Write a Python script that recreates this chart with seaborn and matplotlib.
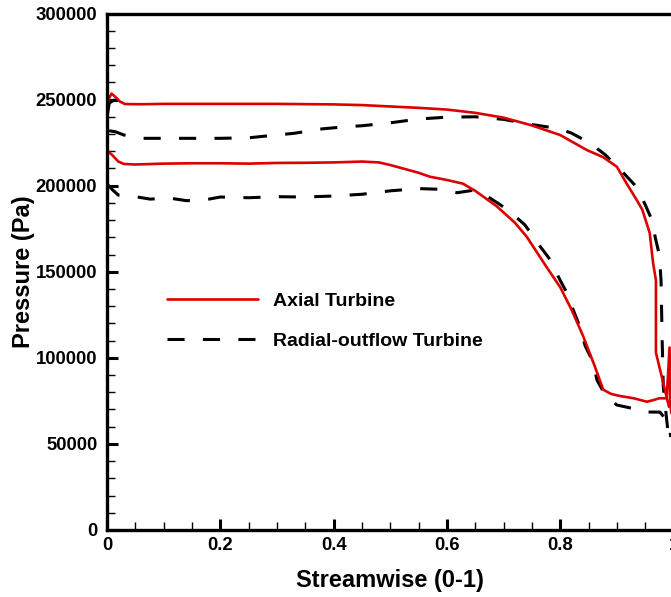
import matplotlib
matplotlib.use("Agg")
import matplotlib.pyplot as plt
from matplotlib.lines import Line2D
from matplotlib.ticker import MultipleLocator
import pandas as pd
import seaborn as sns

# Axial turbine: static pressure along the blade, upper and lower surfaces
axial_upper_x = [0.0, 0.004, 0.008, 0.015, 0.023, 0.032, 0.06, 0.1, 0.2, 0.3, 0.4, 0.45,
                 0.5, 0.55, 0.6, 0.65, 0.7, 0.75, 0.8, 0.847, 0.876, 0.9, 0.917, 0.935,
                 0.945, 0.958, 0.964, 0.969, 0.969, 0.98, 0.992]
axial_upper_p = [246000, 251000, 253500, 251500, 248800, 247400, 247300, 247500, 247500, 247500,
                 247200, 246800, 246000, 245200, 244200, 242300, 239500, 235000, 229400, 220700,
                 216500, 211000, 201400, 191700, 186000, 172500, 155000, 145000, 103000, 88000,
                 71600]

axial_lower_x = [0.002, 0.01, 0.02, 0.03, 0.05, 0.1, 0.15, 0.2, 0.25, 0.3, 0.35, 0.4, 0.45,
                 0.48, 0.5, 0.55, 0.57, 0.6, 0.628, 0.65, 0.688, 0.72, 0.741, 0.777, 0.8,
                 0.82, 0.84, 0.86, 0.876, 0.89, 0.906, 0.93, 0.953, 0.965, 0.975, 0.988,
                 0.993, 0.994, 0.996]
axial_lower_p = [220000, 217500, 214000, 212600, 212300, 212800, 213000, 213000, 212800, 213200,
                 213300, 213500, 214000, 213500, 212000, 207500, 205200, 203300, 201200, 197000,
                 188000, 178500, 170300, 152200, 141000, 128000, 113000, 96000, 81500, 79000,
                 77800, 76500, 74500, 75500, 76500, 76500, 106000, 76000, 68000]

# Radial-outflow turbine: upper and lower surfaces
radial_upper_x = [0.014, 0.004, 0.0, 0.002, 0.015, 0.03, 0.06, 0.1, 0.15, 0.2, 0.25, 0.28,
                  0.33, 0.38, 0.42, 0.45, 0.5, 0.55, 0.6, 0.65, 0.7, 0.75, 0.8, 0.82, 0.853,
                  0.88, 0.91, 0.935, 0.95, 0.962, 0.968, 0.975, 0.978, 0.98, 0.982, 0.986,
                  0.99, 0.994]
radial_upper_p = [250000, 248000, 240000, 232000, 231300, 229400, 227500, 227500, 227500, 227500,
                  227800, 228800, 230400, 233000, 234200, 234800, 236500, 238700, 239800, 240000,
                  238500, 235500, 233000, 230500, 224700, 217800, 208000, 199200, 189000, 180000,
                  169600, 159700, 145000, 110000, 83000, 70000, 58000, 52000]

radial_lower_x = [0.0, 0.01, 0.02, 0.05, 0.076, 0.11, 0.14, 0.17, 0.2, 0.25, 0.3, 0.35, 0.4,
                  0.45, 0.5, 0.55, 0.588, 0.618, 0.65, 0.676, 0.708, 0.738, 0.76, 0.78, 0.8,
                  0.812, 0.823, 0.835, 0.844, 0.858, 0.865, 0.88, 0.9, 0.925, 0.945, 0.976,
                  0.992, 0.995]
radial_lower_p = [201000, 197500, 194500, 193600, 192200, 192800, 191300, 191600, 193400, 193000,
                  193600, 193400, 194000, 195000, 197000, 198300, 197900, 195900, 197500, 192800,
                  185900, 177100, 166700, 158000, 145000, 137600, 127800, 117900, 107000, 97600,
                  87000, 78000, 72600, 70800, 68500, 68500, 62000, 54000]

turbine_names = ["Axial Turbine", "Radial-outflow Turbine"]
x_ticks = [0, 0.2, 0.4, 0.6, 0.8, 1.0]
x_tick_labels = ["0", "0.2", "0.4", "0.6", "0.8", "1"]
y_ticks = [0, 50000, 100000, 150000, 200000, 250000, 300000]


def surface_frame(name, curves):
    frames = []
    for side, (xs, ps) in curves.items():
        frames.append(pd.DataFrame({"turbine": name, "side": side, "x": xs, "p": ps}))
    return pd.concat(frames, ignore_index=True)


axial = surface_frame(turbine_names[0], {"upper": (axial_upper_x, axial_upper_p),
                                         "lower": (axial_lower_x, axial_lower_p)})
radial = surface_frame(turbine_names[1], {"upper": (radial_upper_x, radial_upper_p),
                                          "lower": (radial_lower_x, radial_lower_p)})

sns.set_theme(style="white")
plt.rcParams["font.family"] = ["Liberation Sans", "DejaVu Sans"]
plt.rcParams["font.weight"] = "bold"
plt.rcParams["text.color"] = "black"
plt.rcParams["axes.labelcolor"] = "black"

red = "#dc0000"
dash = (0, (5.6, 6.0))

fig = plt.figure(figsize=(6.71, 5.97), dpi=100)
ax = fig.add_axes([107 / 671, 67 / 597, 566.5 / 671, 516.5 / 597])

sns.lineplot(data=radial, x="x", y="p", units="side", estimator=None, sort=False,
             color="black", linewidth=2.2, linestyle=dash, legend=False, ax=ax)
sns.lineplot(data=axial, x="x", y="p", units="side", estimator=None, sort=False,
             color=red, linewidth=1.9, legend=False, ax=ax)

ax.set_xlim(0, 1)
ax.set_ylim(0, 300000)

ax.set_xticks(x_ticks)
ax.set_xticklabels(x_tick_labels)
ax.set_yticks(y_ticks)
ax.set_yticklabels([str(v) for v in y_ticks])
ax.xaxis.set_minor_locator(MultipleLocator(0.05))
ax.yaxis.set_minor_locator(MultipleLocator(10000))

ax.tick_params(which="both", direction="in", bottom=True, left=True, top=False, right=False,
               colors="black", labelcolor="black", labelsize=13.3)
ax.tick_params(which="major", length=8, width=2.2)
ax.tick_params(which="minor", length=5.5, width=1.0)
ax.tick_params(axis="y", which="major", pad=7)
ax.tick_params(axis="x", which="major", pad=5)
for lab in ax.get_xticklabels() + ax.get_yticklabels():
    lab.set_fontweight("bold")

for s in ax.spines.values():
    s.set_visible(True)
    s.set_color("black")
    s.set_linewidth(2.4)

ax.set_xlabel("Streamwise (0-1)", fontsize=17, fontweight="bold", color="black")
ax.set_ylabel("Pressure (Pa)", fontsize=17, fontweight="bold", color="black")
ax.xaxis.label.set_va("center")
ax.yaxis.label.set_va("center")
ax.xaxis.set_label_coords(0.5, (530 - 580) / 516.5)
ax.yaxis.set_label_coords((24 - 107) / 566.5, 0.5)

handles = [Line2D([], [], color=red, linewidth=1.9),
           Line2D([], [], color="black", linewidth=2.2, linestyle=dash)]
leg = ax.legend(handles, turbine_names, loc="upper left",
                bbox_to_anchor=((167 - 107) / 566.5, (530 - 292) / 516.5),
                frameon=False, borderpad=0, borderaxespad=0, handlelength=4.7,
                handletextpad=0.77, labelspacing=1.17,
                prop={"size": 14, "weight": "bold"})
for t in leg.get_texts():
    t.set_color("black")

fig.savefig("out.png", dpi=100, facecolor="white")
